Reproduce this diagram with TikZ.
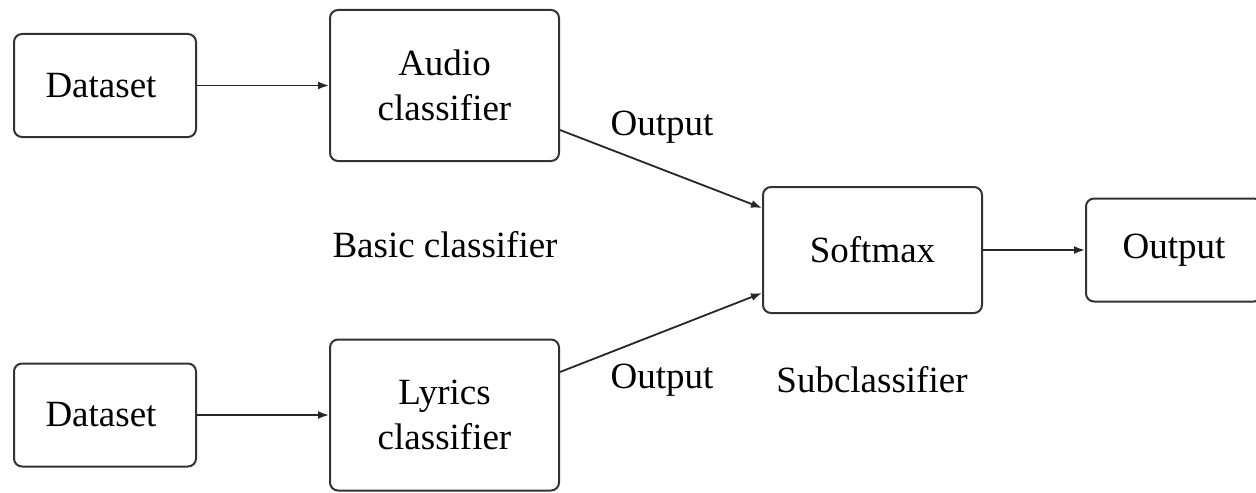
\documentclass[tikz,border=0pt]{standalone}
\usepackage{fontspec}
\setmainfont{Liberation Serif}
\usetikzlibrary{arrows.meta,calc}
\begin{document}
\begin{tikzpicture}[x=0.5pt,y=-0.5pt,
  box/.style={draw=black!80,line width=1pt,rounded corners=4pt,align=center,inner sep=0pt,
    font=\fontsize{18.5}{22.5}\selectfont},
  lbl/.style={inner sep=0pt,font=\fontsize{18.5}{22.5}\selectfont},
  arr/.style={draw=black!85,line width=0.9pt,-{Latex[length=5.5pt,width=4pt]}}]
\clip (0,0) rectangle (1256,492);
\useasboundingbox (0,0) rectangle (1256,492);
\node[box,minimum width=91pt,minimum height=51.5pt] (d1) at (105,85.5) {Dataset\hspace*{4pt}};
\node[box,minimum width=114.5pt,minimum height=75.5pt] (audio) at (444.5,85.5) {Audio\\classifier};
\node[box,minimum width=91pt,minimum height=51.5pt] (d2) at (105,415) {Dataset\hspace*{4pt}};
\node[box,minimum width=114.5pt,minimum height=75.5pt] (lyrics) at (444.5,415) {Lyrics\\classifier};
\node[box,minimum width=109.5pt,minimum height=63pt] (soft) at (872.5,250) {Softmax};
\node[box,minimum width=88pt,minimum height=51.5pt,text width=88pt] (out) at (1174,250) {Output\hspace*{10pt}};
\node[lbl] (o1) at (662,127) {Output};
\node[lbl] (basic) at (445,245) {Basic classifier};
\node[lbl] (o2) at (662,380) {Output};
\node[lbl] (sub) at (872,380) {Subclassifier};
\draw[arr] (d1.east) -- (audio.west);
\draw[arr] (d2.east) -- (lyrics.west);
\draw[arr] ($(audio.east)+(0,44.5)$) -- ($(soft.west)+(0,-42)$);
\draw[arr] ($(lyrics.east)+(0,-43)$) -- ($(soft.west)+(0,43)$);
\draw[arr] (soft.east) -- (out.west);
\end{tikzpicture}
\end{document}
